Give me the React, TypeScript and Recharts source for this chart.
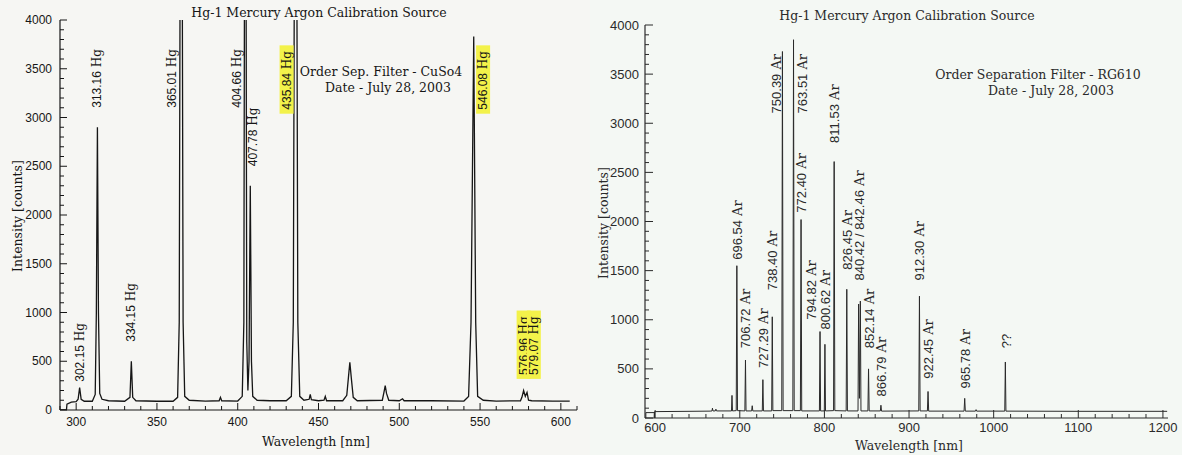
import React from "react";
import { ComposedChart, Line, Scatter, XAxis, YAxis } from "recharts";

// Hg lamp through the CuSO4 order separation filter: [wavelength nm, counts]
const HG_TRACE: [number, number][] = [
  [290, 0], [294, 0], [294.3, 60], [297, 80], [300, 85], [301.2, 110], [302.15, 230], [303.1, 110],
  [305, 90], [310, 90], [311.8, 160], [312.5, 1000], [313.16, 2900], [313.8, 1000], [314.6, 170],
  [316, 110], [320, 95], [330, 90], [333.3, 130], [334.15, 500], [335, 130], [337, 95], [350, 90],
  [360, 90], [362.8, 130], [363.8, 900], [365.01, 9000], [366.2, 900], [367.2, 140], [370, 100],
  [380, 92], [388.5, 95], [389.3, 130], [390.1, 95], [400, 92], [402.8, 140], [403.8, 900],
  [404.66, 9000], [405.6, 700], [406.3, 200], [407, 500], [407.78, 2300], [408.5, 500], [409.3, 140],
  [412, 100], [420, 95], [430, 95], [433.2, 140], [434.4, 900], [435.84, 9000], [437.2, 900],
  [438.4, 140], [441, 100], [444.2, 110], [444.9, 160], [445.6, 105], [450, 95], [453.4, 100],
  [454.2, 140], [455, 95], [465, 95], [467.5, 150], [468.5, 330], [469.4, 490], [470.3, 330],
  [471.5, 130], [474, 95], [489.5, 100], [490.5, 180], [491.3, 250], [492.1, 170], [493.5, 100],
  [500, 95], [502, 115], [503, 95], [520, 95], [540, 92], [542.9, 140], [544.4, 900], [546.08, 3830],
  [547.3, 900], [548.5, 140], [552, 100], [560, 92], [575, 95], [575.9, 130], [576.96, 200],
  [578, 140], [579.07, 180], [580, 100], [582, 95], [595, 92], [605.5, 90],
];

// Ar lines through the RG610 filter: [wavelength nm, counts]
const AR_TRACE: [number, number][] = [
  [589, 0], [589, 55], [599, 55], [599, 0], [599.3, 65], [640, 68], [665, 70], [667.2, 72],
  [667.7, 100], [668.3, 72], [671, 72], [671.8, 90], [672.5, 72], [690.2, 72], [690.8, 230],
  [691.4, 72], [695.8, 75], [696.54, 1550], [697.3, 75], [706, 72], [706.72, 590], [707.4, 72],
  [714, 72], [714.7, 125], [715.4, 72], [726.6, 72], [727.29, 390], [728, 72], [737.7, 72],
  [738.4, 1030], [739.1, 75], [749.6, 75], [750.39, 3730], [751.2, 75], [762.7, 75], [763.51, 3850],
  [764.3, 75], [771.6, 75], [772.4, 2020], [773.2, 72], [794.1, 72], [794.82, 880], [795.5, 72],
  [799.9, 72], [800.62, 750], [801.3, 72], [810.8, 75], [811.53, 2610], [812.3, 75], [825.7, 72],
  [826.45, 1310], [827.2, 72], [839.7, 72], [840.42, 1160], [841.4, 200], [842.46, 1190],
  [843.2, 72], [851.4, 72], [852.14, 500], [852.9, 72], [866.1, 72], [866.79, 130], [867.5, 70],
  [911.5, 72], [912.3, 1240], [913.1, 72], [921.7, 72], [922.45, 270], [923.2, 70], [965, 70],
  [965.78, 200], [966.5, 70], [978.5, 70], [979.2, 85], [979.9, 70], [1013.1, 70], [1013.8, 570],
  [1014.5, 70], [1100, 68], [1205, 68],
];

// identified lines and their labels
const HG_LINES = [302.15, 313.16, 334.15, 365.01, 404.66, 407.78, 435.84, 546.08, 576.96, 579.07];
const HG_NAMES = ["Hg", "Hg", "Hg", "Hg", "Hg", "Hg", "Hg", "Hg", "Hg", "Hg"];
const HG_MARKED = [435.84, 546.08, 576.96, 579.07];

const AR_LINES = [
  696.54, 706.72, 727.29, 738.4, 750.39, 763.51, 772.4, 794.82, 800.62, 811.53, 826.45, 840.42,
  852.14, 866.79, 912.3, 922.45, 965.78, 1013.8,
];
const AR_TEXT = [
  "696.54", "706.72", "727.29", "738.40", "750.39", "763.51", "772.40", "794.82", "800.62", "811.53",
  "826.45", "840.42 / 842.46", "852.14", "866.79", "912.30", "922.45", "965.78", "??",
];
const AR_NAMES = [
  "Ar", "Ar", "Ar", "Ar", "Ar", "Ar", "Ar", "Ar", "Ar", "Ar", "Ar", "Ar", "Ar", "Ar", "Ar", "Ar", "Ar", "",
];

// where each label sits: [shift from the line in nm, foot of the text in counts]
const HG_LABEL_AT: [number, number][] = [
  [0, 290], [0, 3100], [0, 700], [-5.5, 3100], [-5.3, 3100], [1.7, 2500], [-5.6, 3080], [5.8, 3080],
  [0, 360], [4.2, 360],
];
const AR_LABEL_AT: [number, number][] = [
  [0, 1610], [0, 710], [0, 510], [0, 1300], [-7.9, 3100], [9.5, 3100], [0, 2090], [-10.6, 1000],
  [0, 900], [0, 2800], [0, 1510], [0, 1400], [0, 710], [0, 220], [0, 1400], [0, 400], [0, 300],
  [0.4, 710],
];

// axis ticks (labelled ones)
const HG_X_LABELS = [300, 350, 400, 450, 500, 550, 600];
const AR_X_LABELS = [600, 700, 800, 900, 1000, 1100, 1200];
const Y_LABELS = [0, 500, 1000, 1500, 2000, 2500, 3000, 3500, 4000];

const steps = (from: number, to: number, by: number) => {
  const out: number[] = [];
  for (let v = from; v <= to + 1e-9; v += by) out.push(Math.round(v * 100) / 100);
  return out;
};

const SANS = "'Liberation Sans', Arial, sans-serif";
const SERIF = "'DejaVu Serif', serif";
const HILITE = "#f3f24a";

type Side = "top" | "bottom" | "left" | "right";

const makeTick =
  (side: Side, labels: number[], size: number, gap: number, font: number, ink: string) =>
  (p: any) => {
    const v = p.payload.value as number;
    const major = labels.includes(v);
    const len = major ? size : Math.round(size * 0.55);
    const { x, y } = p;
    let seg = [x, y, x, y - len];
    if (side === "top") seg = [x, y, x, y + len];
    if (side === "left") seg = [x, y, x + len, y];
    if (side === "right") seg = [x, y, x - len, y];
    return (
      <g>
        <line x1={seg[0]} y1={seg[1]} x2={seg[2]} y2={seg[3]} stroke={ink} strokeWidth={1} />
        {major && side === "bottom" && (
          <text x={x} y={y + gap} textAnchor="middle" dominantBaseline="central" fontFamily={SANS} fontSize={font} fill={ink}>
            {v}
          </text>
        )}
        {major && side === "left" && (
          <text x={x - gap} y={y} textAnchor="end" dominantBaseline="central" fontFamily={SANS} fontSize={font} fill={ink}>
            {v}
          </text>
        )}
      </g>
    );
  };

const makeLabel = (font: number, ink: string) => (p: any) => {
  const { cx, cy, payload } = p;
  if (cx == null || cy == null) return <g />;
  const num = payload.text as string;
  const name = payload.name as string;
  const len = num.length * font * 0.53 + (name ? font * 1.85 : 0);
  return (
    <g transform={`translate(${cx},${cy}) rotate(-90)`}>
      {payload.marked && <rect x={-4} y={-7} width={len + 8} height={14} fill={HILITE} />}
      <text x={0} y={0} dominantBaseline="central" fontSize={font} fill={ink}>
        <tspan fontFamily={SANS}>{num}</tspan>
        {name && <tspan fontFamily={SERIF}>{" " + name}</tspan>}
      </text>
    </g>
  );
};

type PanelProps = {
  trace: [number, number][];
  labels: { x: number; y: number; text: string; name: string; marked: boolean }[];
  width: number;
  height: number;
  margin: { top: number; right: number; left: number; bottom: number };
  yWidth: number;
  xHeight: number;
  xDomain: [number, number];
  xLabels: number[];
  xMinor: number[];
  ink: string;
  font: number;
  labelFont: number;
  xGap: number;
  yGap: number;
  major: number;
  lineWidth: number;
};

function Panel(props: PanelProps) {
  const { ink } = props;
  const data = props.trace.map(([x, y]) => ({ x, y }));
  const yTicks = steps(0, 4000, 100);
  const axisLine = { stroke: ink, strokeWidth: 1.2 };
  return (
    <ComposedChart width={props.width} height={props.height} margin={props.margin}>
      <XAxis
        xAxisId="x" type="number" dataKey="x" domain={props.xDomain} allowDataOverflow
        ticks={props.xMinor} interval={0} height={props.xHeight} tickSize={0} tickMargin={0}
        tickLine={false} axisLine={axisLine}
        tick={makeTick("bottom", props.xLabels, props.major, props.xGap, props.font, ink)}
      />
      <XAxis
        xAxisId="xt" orientation="top" type="number" domain={props.xDomain} allowDataOverflow
        ticks={props.xMinor} interval={0} height={0} tickSize={0} tickMargin={0}
        tickLine={false} axisLine={axisLine}
        tick={makeTick("top", props.xLabels, props.major, 0, props.font, ink)}
      />
      <YAxis
        yAxisId="y" type="number" dataKey="y" domain={[0, 4000]} allowDataOverflow
        ticks={yTicks} interval={0} width={props.yWidth} tickSize={0} tickMargin={0}
        tickLine={false} axisLine={axisLine}
        tick={makeTick("left", Y_LABELS, props.major, props.yGap, props.font, ink)}
      />
      <YAxis
        yAxisId="yr" orientation="right" type="number" domain={[0, 4000]} allowDataOverflow
        ticks={yTicks} interval={0} width={0} tickSize={0} tickMargin={0}
        tickLine={false} axisLine={axisLine}
        tick={makeTick("right", Y_LABELS, props.major, 0, props.font, ink)}
      />
      <Line
        xAxisId="x" yAxisId="y" data={data} dataKey="y" type="linear" stroke={ink}
        strokeWidth={props.lineWidth} dot={false} activeDot={false} isAnimationActive={false}
      />
      <Scatter
        xAxisId="x" yAxisId="y" data={props.labels} dataKey="y"
        shape={makeLabel(props.labelFont, ink)} isAnimationActive={false}
      />
    </ComposedChart>
  );
}

const hgLabels = HG_LINES.map((w, i) => ({
  x: w + HG_LABEL_AT[i][0],
  y: HG_LABEL_AT[i][1],
  text: w.toFixed(2),
  name: HG_NAMES[i],
  marked: HG_MARKED.includes(w),
}));

const arLabels = AR_LINES.map((w, i) => ({
  x: w + AR_LABEL_AT[i][0],
  y: AR_LABEL_AT[i][1],
  text: AR_TEXT[i],
  name: AR_NAMES[i],
  marked: false,
}));

const HG_INK = "#161616";
const AR_INK = "#2a2a2a";

export default function App() {
  const serifText = { fontFamily: SERIF, fontSize: 12.5 };
  return (
    <div style={{ position: "absolute", left: 0, top: 0, width: 1182, height: 455, overflow: "hidden", background: "#ffffff" }}>
      <div style={{ position: "absolute", left: 0, top: 0, width: 590, height: 455, background: "#f6f6f3" }}>
        <Panel
          trace={HG_TRACE} labels={hgLabels} width={590} height={455}
          margin={{ top: 20, right: 13, left: 0, bottom: 0 }} yWidth={60} xHeight={45}
          xDomain={[290, 610]} xLabels={HG_X_LABELS} xMinor={steps(290, 610, 10)}
          ink={HG_INK} font={12} labelFont={12} xGap={12} yGap={8} major={7} lineWidth={1.3}
        />
      </div>
      <div style={{ position: "absolute", left: 590, top: 0, width: 592, height: 455, background: "#f4f8f4" }}>
        <Panel
          trace={AR_TRACE} labels={arLabels} width={592} height={455}
          margin={{ top: 25, right: 14, left: 0, bottom: 0 }} yWidth={55} xHeight={37}
          xDomain={[588, 1206]} xLabels={AR_X_LABELS} xMinor={steps(600, 1200, 20)}
          ink={AR_INK} font={13} labelFont={13} xGap={9} yGap={6} major={8} lineWidth={1}
        />
      </div>
      <svg width={1182} height={455} style={{ position: "absolute", left: 0, top: 0, pointerEvents: "none" }}>
        <g fill={HG_INK} {...serifText} textAnchor="middle" dominantBaseline="central">
          <text x={319} y={12}>Hg-1 Mercury Argon Calibration Source</text>
          <text x={381} y={71}>Order Sep. Filter - CuSo4</text>
          <text x={388} y={87}>Date - July 28, 2003</text>
          <text x={316} y={441}>Wavelength [nm]</text>
          <text transform="translate(17,216) rotate(-90)">Intensity [counts]</text>
        </g>
        <g fill={AR_INK} {...serifText} textAnchor="middle" dominantBaseline="central">
          <text x={907} y={15}>Hg-1 Mercury Argon Calibration Source</text>
          <text x={1038} y={74}>Order Separation Filter - RG610</text>
          <text x={1051} y={90}>Date - July 28, 2003</text>
          <text x={909} y={445}>Wavelength [nm]</text>
          <text transform="translate(603,223) rotate(-90)">Intensity [counts]</text>
        </g>
      </svg>
    </div>
  );
}
